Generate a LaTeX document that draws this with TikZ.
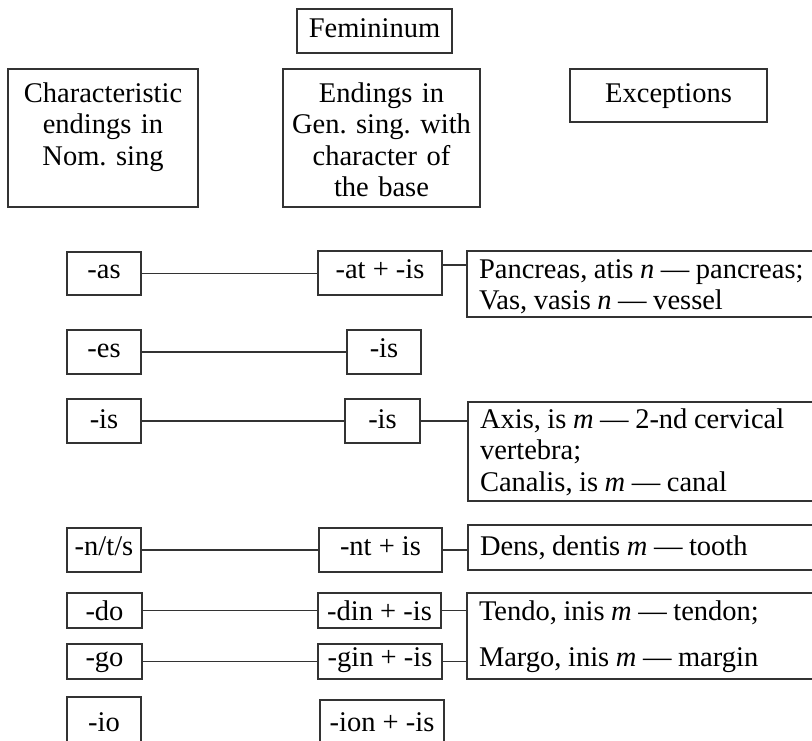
\documentclass[tikz,border=0pt]{standalone}
\usepackage{fontspec}
\setmainfont{Liberation Serif}
\newcommand\tightwords{\spaceskip=0.23em plus 0.1em\relax}
\tikzset{
  box/.style={draw=black!80, line width=1.3pt, outer sep=0pt,
    inner ysep=0pt, inner xsep=4pt, anchor=north west},
  tb/.style 2 args={text height=#1pt, text depth=#2pt},
  link/.style={draw=black!80, line width=1.5pt},
  exc/.style={box, align=left, inner xsep=12pt, text width=339pt,
    execute at begin node=\tightwords}}
\begin{document}
\begin{tikzpicture}[x=1pt,y=-1pt,
  every node/.style={font=\fontsize{28.5}{31.5}\selectfont\frenchspacing}]
\useasboundingbox (0,0) rectangle (812,740);
\fill[white] (0,0) rectangle (812,740);
\clip (0,0) rectangle (812,740);

% column headings
\node[box, minimum width=155pt, tb={28}{16}] (fem) at (297,9) {Femininum};
\node[box, text width=182pt, align=center, tb={33}{105}] (nom) at (8,69)
  {Characteristic\\endings in\\Nom. sing};
\node[box, text width=189pt, align=center, tb={33}{105}] (gen) at (283,69)
  {Endings in\\Gen. sing. with\\character of\\the base};
\node[box, minimum width=197pt, tb={33}{20}] (exc) at (570,69) {Exceptions};

% endings in the nominative
\node[box, minimum width=74pt, tb={26}{17}] (l1) at (67,252) {-as};
\node[box, minimum width=74pt, tb={27}{17}] (l2) at (67,330) {-es};
\node[box, minimum width=74pt, tb={29}{15}] (l3) at (67,399) {-is};
\node[box, minimum width=74pt, tb={27}{17}] (l4) at (67,528) {-n/t/s};
\node[box, minimum width=75pt, tb={27}{8}]  (l5) at (67,593) {-do};
\node[box, minimum width=75pt, tb={22}{13}] (l6) at (67,644) {-go};
\node[box, minimum width=74pt, tb={34}{29}] (l7) at (67,697) {-io};

% endings in the genitive
\node[box, minimum width=124pt, tb={27}{17}] (m1) at (318,251) {-at + -is};
\node[box, minimum width=74pt,  tb={27}{17}] (m2) at (347,330) {-is};
\node[box, minimum width=75pt,  tb={29}{15}] (m3) at (345,399) {-is};
\node[box, minimum width=123pt, tb={27}{17}] (m4) at (319,528) {-nt + is};
\node[box, minimum width=123pt, tb={27}{8}]  (m5) at (318,593) {-din + -is};
\node[box, minimum width=124pt, tb={22}{13}] (m6) at (318,644) {-gin + -is};
\node[box, minimum width=124pt, tb={31}{29}] (m7) at (320,700) {-ion + -is};

% exceptions
\node[exc, tb={27}{39}] (e1) at (467,251)
  {Pancreas, atis \textit{n} — pancreas;\\Vas, vasis \textit{n} — vessel};
\node[exc, tb={26}{73}] (e3) at (468,402)
  {Axis, is \textit{m} — 2-nd cervical\\vertebra;\\Canalis, is \textit{m} — canal};
\node[exc, tb={30}{15}] (e4) at (468,525)
  {Dens, dentis \textit{m} — tooth};
\node[exc, tb={27}{59}] (e5) at (467,593)
  {Tendo, inis \textit{m} — tendon;\\[14.5pt]Margo, inis \textit{m} — margin};

% connectors
\coordinate (j1) at ([yshift=-14pt]e1.north west);
\draw[link] (l1.east) -- (l1.east -| m1.west);
\draw[link] (m1.east |- j1) -- (j1);
\draw[link] (l2.east) -- (l2.east -| m2.west);
\draw[link] (l3.east) -- (l3.east -| m3.west);
\draw[link] (m3.east) -- (m3.east -| e3.west);
\draw[link] (l4.east) -- (l4.east -| m4.west);
\draw[link] (m4.east) -- (m4.east -| e4.west);
\draw[link] (l5.east) -- (l5.east -| m5.west);
\draw[link] (m5.east) -- (m5.east -| e5.west);
\draw[link] (l6.east) -- (l6.east -| m6.west);
\draw[link] (m6.east) -- (m6.east -| e5.west);
\end{tikzpicture}
\end{document}
